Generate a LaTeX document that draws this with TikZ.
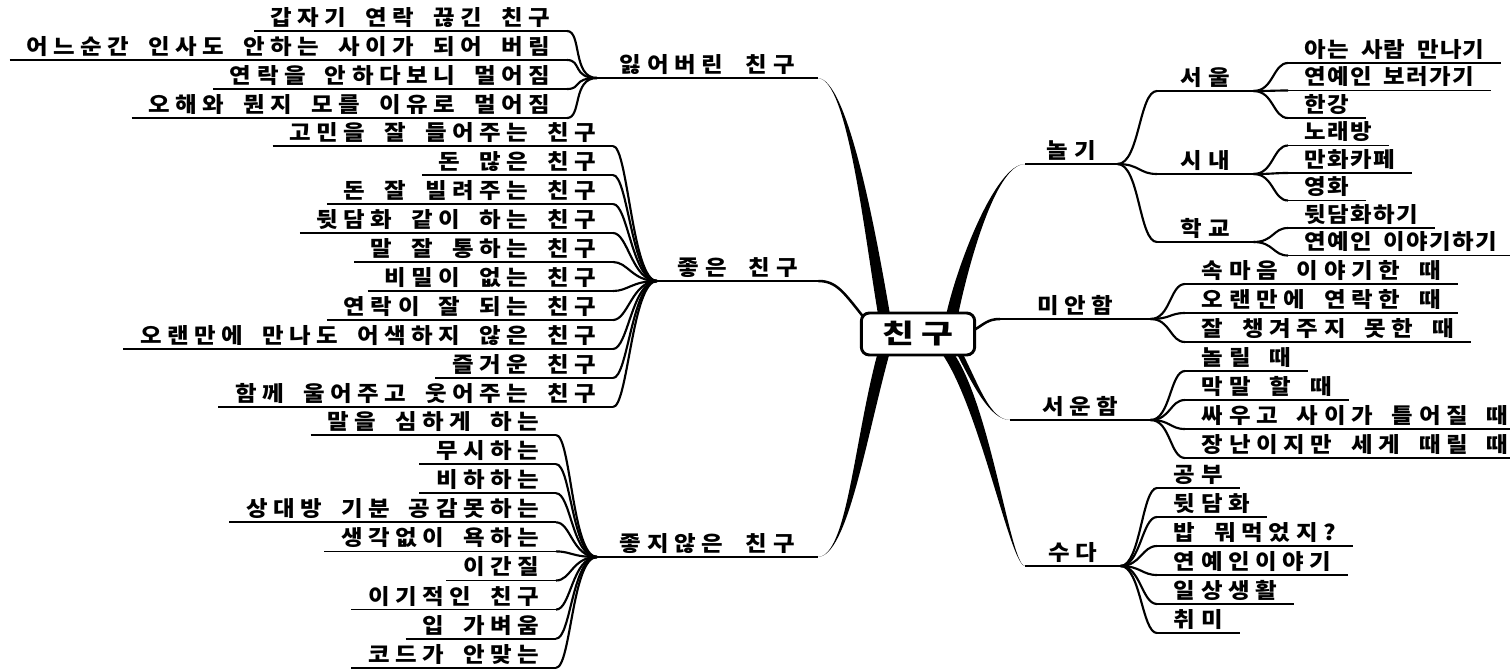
\documentclass[tikz,border=0pt]{standalone}
\usepackage{fontspec}
\newfontfamily\kfont{Noto Sans CJK KR}[FakeStretch=1.1,LetterSpace=26,WordSpace=1.75]
\newfontfamily\knarrow{Noto Sans CJK KR}[FakeStretch=1.1,LetterSpace=6,WordSpace=1.75]
\newfontfamily\kcatfont{Noto Sans CJK KR}[FakeStretch=1.1,LetterSpace=27,WordSpace=2]
\newfontfamily\khubfont{Noto Sans CJK KR}[FakeStretch=1.3,LetterSpace=30]
\usetikzlibrary{calc,backgrounds}

% tapered branch: thick end, control at thick end, control at thin end, thin end, half width
\newcommand\branchfill[5]{%
  \fill ($(#1)+(-#5,0)$) .. controls +#2 and +#3 .. (#4)
        .. controls +#3 and +#2 .. ($(#1)+(#5,0)$) -- cycle;}

\begin{document}
\begin{tikzpicture}[
    x=0.75pt, y=-0.75pt,
    leaf/.style={font=\kfont\bfseries\fontsize{16pt}{18pt}\selectfont, inner xsep=12.5pt, inner ysep=4pt, text depth=0pt},
    leafn/.style={leaf, font=\knarrow\bfseries\fontsize{16pt}{18pt}\selectfont},
    cat/.style={leaf, font=\kcatfont\bfseries\fontsize{16pt}{18pt}\selectfont, inner xsep=0pt},
    hub/.style={draw, fill=white, line width=2.2pt, rounded corners=6pt, minimum width=85pt, minimum height=31.5pt, inner sep=0pt, font=\khubfont\bfseries\fontsize{20pt}{22pt}\selectfont},
    rule/.style={line width=1.3pt},
    twig/.style={line width=1.6pt},
    stem/.style={line width=1.9pt}
  ]
  \useasboundingbox (0,0) rectangle (1510,669);

  \node[hub] (hub) at (918,334) {친구};

  % main categories
  \node[cat, anchor=south west, minimum width=165pt] (lost) at (597,78) {잃어버린 친구};
  \node[cat, anchor=south west, minimum width=120.75pt] (good) at (657,281) {좋은 친구};
  \node[cat, anchor=south west, minimum width=165pt] (bad) at (597,557) {좋지않은 친구};
  \node[cat, anchor=south west, minimum width=69pt] (play) at (1025,164) {놀기};
  \node[cat, anchor=south west, minimum width=112.5pt] (sorry) at (1000,319) {미안함};
  \node[cat, anchor=south west, minimum width=105pt] (sad) at (1010,420) {서운함};
  \node[cat, anchor=south west, minimum width=71.25pt] (chat) at (1025,566) {수다};
  \node[cat, anchor=south west, minimum width=72pt] (seoul) at (1157,91) {서울};
  \node[cat, anchor=south west, minimum width=72pt] (town) at (1157,174) {시내};
  \node[cat, anchor=south west, minimum width=72pt] (school) at (1157,242) {학교};
  \foreach \n in {lost,good,bad,play,sorry,sad,chat,seoul,town,school}
    \draw[rule] (\n.south west) -- (\n.south east);

  % left leaves
  \foreach \t [count=\i] in {갑자기 연락 끊긴 친구, 어느순간 인사도 안하는 사이가 되어 버림,
      연락을 안하다보니 멀어짐, 오해와 뭔지 모를 이유로 멀어짐} {
    \node[leaf, anchor=south east] (ls\i) at (567,{31+29*(\i-1)}) {\t};
    \draw[rule] (ls\i.south west) -- (ls\i.south east);
    \draw[twig] (lost.south west) .. controls +(-25,0) and +(15,0) .. (ls\i.south east);
  }
  \foreach \t [count=\i] in {고민을 잘 들어주는 친구, 돈 많은 친구, 돈 잘 빌려주는 친구,
      뒷담화 같이 하는 친구, 말 잘 통하는 친구, 비밀이 없는 친구, 연락이 잘 되는 친구,
      오랜만에 만나도 어색하지 않은 친구, 즐거운 친구, 함께 울어주고 웃어주는 친구} {
    \node[leaf, anchor=south east] (gd\i) at (613,{146+29*(\i-1)}) {\t};
    \draw[rule] (gd\i.south west) -- (gd\i.south east);
    \draw[twig] (good.south west) .. controls +(-25,0) and +(15,0) .. (gd\i.south east);
  }
  \foreach \t [count=\i] in {말을 심하게 하는, 무시하는, 비하하는, 상대방 기분 공감못하는,
      생각없이 욕하는, 이간질, 이기적인 친구, 입 가벼움, 코드가 안맞는} {
    \node[leaf, anchor=south east] (bd\i) at (556,{435+29.1*(\i-1)}) {\t};
    \draw[rule] (bd\i.south west) -- (bd\i.south east);
    \draw[twig] (bad.south west) .. controls +(-25,0) and +(15,0) .. (bd\i.south east);
  }

  % right leaves
  \foreach \t [count=\i] in {아는 사람 만나기, 연예인 보러가기, 한강, 노래방, 만화카페, 영화,
      뒷담화하기, 연예인 이야기하기}
    \node[leafn, anchor=south west] (pl\i) at (1288,{63+27.5*(\i-1)}) {\t};
  \foreach \i/\p in {1/seoul,2/seoul,3/seoul,4/town,5/town,6/town,7/school,8/school} {
    \draw[rule] (pl\i.south west) -- (pl\i.south east);
    \draw[twig] (\p.south east) .. controls +(20,0) and +(-15,0) .. (pl\i.south west);
  }
  \foreach \p in {seoul,town,school}
    \draw[twig] (play.south east) .. controls +(22,0) and +(-18,0) .. (\p.south west);

  \foreach \t [count=\i] in {속마음 이야기한 때, 오랜만에 연락한 때, 잘 챙겨주지 못한 때,
      놀릴 때, 막말 할 때, 싸우고 사이가 틀어질 때, 장난이지만 세게 때릴 때}
    \node[leaf, anchor=south west] (fl\i) at (1185,{284+29*(\i-1)}) {\t};
  \foreach \i/\p in {1/sorry,2/sorry,3/sorry,4/sad,5/sad,6/sad,7/sad} {
    \draw[rule] (fl\i.south west) -- (fl\i.south east);
    \draw[twig] (\p.south east) .. controls +(20,0) and +(-15,0) .. (fl\i.south west);
  }

  \foreach \t [count=\i] in {공부, 뒷담화, 밥 뭐먹었지?, 연예인이야기, 일상생활, 취미} {
    \node[leaf, anchor=south west] (ch\i) at (1157,{488+29*(\i-1)}) {\t};
    \draw[rule] (ch\i.south west) -- (ch\i.south east);
    \draw[twig] (chat.south east) .. controls +(20,0) and +(-15,0) .. (ch\i.south west);
  }

  % branches from the hub
  \coordinate (hl) at ($(hub.north west)+(25,8)$);
  \coordinate (hr) at ($(hub.north east)+(-25,8)$);
  \coordinate (bl) at ($(hub.south west)+(25,-8)$);
  \coordinate (bm) at ($(hub.south east)+(-32,-8)$);
  \coordinate (br) at ($(hub.south east)+(-18,-6)$);
  \begin{scope}[on background layer]
    \fill[white] (0,0) rectangle (1510,669);
    \branchfill{hl}{(-15,-88)}{(30,0)}{lost.south east}{6}
    \branchfill{hr}{(10,-50)}{(-30,0)}{play.south west}{6}
    \branchfill{bl}{(-25,90)}{(30,0)}{bad.south east}{6}
    \branchfill{bm}{(40,50)}{(-15,0)}{chat.south west}{6}
    \branchfill{br}{(18,35)}{(-20,0)}{sad.south west}{3}
    \draw[stem] ($(hub.north west)+(4,6)$) .. controls +(-20,-25) and +(18,0) .. (good.south east);
    \draw[stem] ($(hub.east)+(-2,-4)$) .. controls +(10,-6) and +(-12,0) .. (sorry.south west);
  \end{scope}
\end{tikzpicture}
\end{document}
